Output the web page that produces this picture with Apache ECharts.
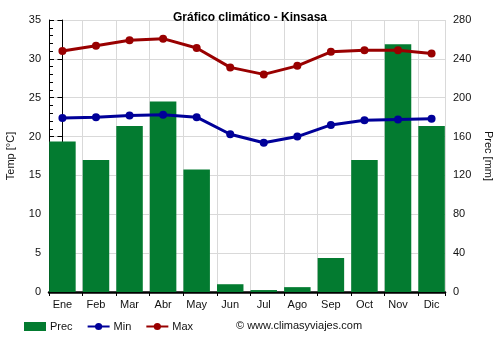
<!DOCTYPE html>
<html>
<head>
<meta charset="utf-8">
<script src="https://cdn.jsdelivr.net/npm/echarts@6/dist/echarts.min.js"></script>
<style>
  html, body { margin: 0; padding: 0; background: #ffffff; }
  #chart { width: 500px; height: 350px; }
</style>
</head>
<body>
<div id="chart"></div>
<script>
// Monthly climate data for Kinshasa
const months = ['Ene', 'Feb', 'Mar', 'Abr', 'May', 'Jun', 'Jul', 'Ago', 'Sep', 'Oct', 'Nov', 'Dic'];
const precMm = [155, 136, 171, 196, 126, 8, 2, 5, 35, 136, 255, 171];
const tempMin = [22.4, 22.5, 22.7, 22.8, 22.5, 20.3, 19.2, 20.0, 21.5, 22.1, 22.2, 22.3];
const tempMax = [31.0, 31.7, 32.4, 32.6, 31.4, 28.9, 28.0, 29.1, 30.9, 31.1, 31.1, 30.7];
const tempTicks = [0, 5, 10, 15, 20, 25, 30, 35];
const precTicks = [0, 40, 80, 120, 160, 200, 240, 280];

const FONT = '"Liberation Sans", Arial, sans-serif';
const TEXT = '#111111';

// Month index -> [x, value] pairs on the numeric month axis
const pairs = arr => arr.map((v, i) => [i, v]);
const monthIdx = months.map((m, i) => i);

const chart = echarts.init(document.getElementById('chart'), null, { renderer: 'canvas' });

chart.setOption({
  animation: false,
  backgroundColor: '#ffffff',
  title: {
    text: 'Gráfico climático - Kinsasa',
    left: 'center',
    top: 12,
    padding: 0,
    textStyle: { fontFamily: FONT, fontSize: 12, fontWeight: 'bold', color: '#000' }
  },
  grid: { left: 49, right: 55, top: 20, bottom: 58, containLabel: false, outerBoundsMode: 'none' },
  legend: {
    left: 24,
    top: 321,
    padding: 0,
    itemWidth: 22,
    itemHeight: 9,
    itemGap: 14,
    textStyle: { fontFamily: FONT, fontSize: 11, color: TEXT, padding: [0, 0, 0, -1] },
    data: [
      { name: 'Prec', icon: 'rect' },
      { name: 'Min' },
      { name: 'Max' }
    ]
  },
  graphic: [{
    type: 'text',
    left: 236,
    top: 320,
    style: { text: '© www.climasyviajes.com', fontFamily: FONT, fontSize: 11, fill: TEXT }
  }],
  xAxis: [
    {
      // Month axis: data and labels, bar centres at whole numbers
      type: 'value',
      min: -0.4,
      max: 11.4,
      axisLine: { show: false },
      axisTick: { show: false },
      splitLine: { show: false },
      axisLabel: {
        customValues: monthIdx,
        margin: 7,
        fontFamily: FONT, fontSize: 11, color: TEXT,
        formatter: v => months[Math.round(v)]
      }
    },
    {
      // Boundary axis: ticks and vertical grid lines between months
      type: 'value',
      position: 'bottom',
      min: 0,
      max: 11.8,
      interval: 1,
      axisLine: { show: true, onZero: false, lineStyle: { color: '#000', width: 2.5 } },
      axisTick: { show: true, length: 4, lineStyle: { color: '#000' } },
      splitLine: { show: true, lineStyle: { color: '#d9d9d9', width: 1 } },
      axisLabel: { show: false }
    }
  ],
  yAxis: [
    {
      type: 'value',
      min: tempTicks[0],
      max: tempTicks[tempTicks.length - 1],
      interval: 5,
      name: 'Temp [°C]',
      nameLocation: 'middle',
      nameGap: 33,
      nameRotate: 90,
      nameTextStyle: { fontFamily: FONT, fontSize: 11, color: TEXT },
      axisLine: { show: true, lineStyle: { color: '#000' } },
      axisTick: { show: true, length: 5, lineStyle: { color: '#000' } },
      axisLabel: { margin: 8, fontFamily: FONT, fontSize: 11, color: TEXT },
      splitLine: { show: true, lineStyle: { color: '#d9d9d9', width: 1 } }
    },
    {
      type: 'value',
      position: 'right',
      min: precTicks[0],
      max: precTicks[precTicks.length - 1],
      interval: 40,
      name: 'Prec [mm]',
      nameLocation: 'middle',
      nameGap: 38,
      nameRotate: -90,
      nameTextStyle: { fontFamily: FONT, fontSize: 11, color: TEXT },
      axisLine: { show: true, lineStyle: { color: '#000' } },
      axisTick: { show: true, length: 5, lineStyle: { color: '#000' } },
      minorTick: { show: true, splitNumber: 5, length: 4, lineStyle: { color: '#000' } },
      axisLabel: { margin: 8, fontFamily: FONT, fontSize: 11, color: TEXT },
      splitLine: { show: false }
    }
  ],
  series: [
    {
      name: 'Prec',
      type: 'bar',
      xAxisIndex: 0,
      yAxisIndex: 1,
      barWidth: 26.5,
      itemStyle: { color: '#037b30' },
      data: pairs(precMm),
      z: 2
    },
    {
      name: 'Min',
      type: 'line',
      xAxisIndex: 0,
      yAxisIndex: 0,
      symbol: 'circle',
      symbolSize: 8,
      lineStyle: { color: '#000099', width: 3 },
      itemStyle: { color: '#000099' },
      data: pairs(tempMin),
      z: 4
    },
    {
      name: 'Max',
      type: 'line',
      xAxisIndex: 0,
      yAxisIndex: 0,
      symbol: 'circle',
      symbolSize: 8,
      lineStyle: { color: '#990000', width: 3 },
      itemStyle: { color: '#990000' },
      data: pairs(tempMax),
      z: 4
    }
  ]
});
</script>
</body>
</html>
